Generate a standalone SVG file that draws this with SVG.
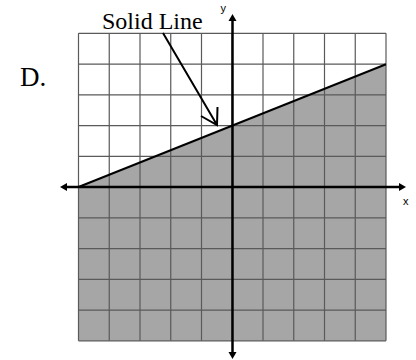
<svg xmlns="http://www.w3.org/2000/svg" width="416" height="360" viewBox="0 0 416 360">
<style>
.grid{stroke:#5a5a5a;stroke-width:1.2;fill:none}
.axis{stroke:#000;stroke-width:2.5;fill:none}
.serif{font-family:"Liberation Serif","Times New Roman",serif;fill:#000}
.sans{font-family:"Liberation Sans",Arial,sans-serif;font-size:11px;fill:#000}
</style>
<rect x="0" y="0" width="416" height="360" fill="#fff"/>
<g id="shade">
<polygon points="78.5,187 386,64.3 386,340.8 78.5,340.8" fill="#a6a6a6"/>
</g>
<g id="grid" class="grid">
<path d="M78.5,33.3V340.8M109.25,33.3V340.8M140,33.3V340.8M170.75,33.3V340.8M201.5,33.3V340.8M232.25,33.3V340.8M263,33.3V340.8M293.75,33.3V340.8M324.5,33.3V340.8M355.25,33.3V340.8M386,33.3V340.8"/>
<path d="M78.5,33.3H386M78.5,64.05H386M78.5,94.8H386M78.5,125.55H386M78.5,156.3H386M78.5,187.05H386M78.5,217.8H386M78.5,248.55H386M78.5,279.3H386M78.5,310.05H386M78.5,340.8H386"/>
</g>
<g id="connectors">
<path class="axis" d="M66,187H400"/>
<polygon points="60,187 67,183 67,191" fill="#000"/>
<polygon points="406,187 399,183 399,191" fill="#000"/>
<path class="axis" d="M232.5,20V352"/>
<polygon points="232.5,14 228.5,21 236.5,21" fill="#000"/>
<polygon points="232.5,359 228.5,352 236.5,352" fill="#000"/>
<path d="M78.5,187L386,64.3" stroke="#000" stroke-width="2" fill="none"/>
<path d="M163,33L217,125M201,116L217,125L217.5,107" stroke="#000" stroke-width="2" fill="none"/>
</g>
<g id="labels">
<text class="serif" x="102" y="29" font-size="24">Solid Line</text>
<text class="serif" x="20" y="86" font-size="27">D.</text>
<text class="sans" x="220.5" y="12">y</text>
<text class="sans" x="403" y="205">x</text>
</g>
</svg>
